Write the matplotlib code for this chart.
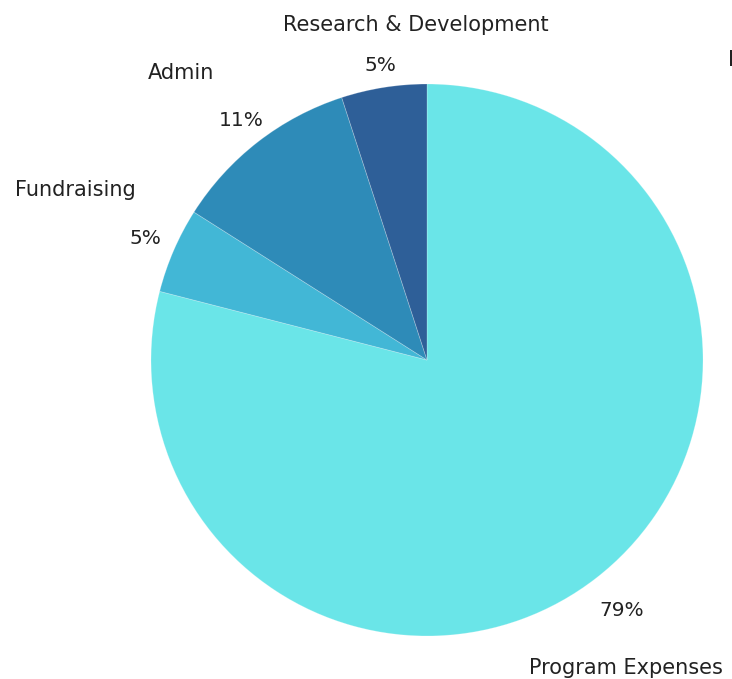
import matplotlib
matplotlib.use("Agg")
import matplotlib.pyplot as plt
import numpy as np

categories = ["Program Expenses", "Fundraising", "Admin", "Research & Development"]
values = [79, 5, 11, 5]
colors = ["#6AE5E8", "#42B7D6", "#2E8BB8", "#2E5F98"]

plt.rcParams['font.family'] = ['DejaVu Sans']

fig = plt.figure(figsize=(7.32, 6.79), dpi=100)
ax = fig.add_axes([151/732, (679-636)/679, 552/732, 552/679])
wedges, _ = ax.pie(values, colors=colors, startangle=90, counterclock=False,
                   radius=1.0, wedgeprops=dict(linewidth=0.6, edgecolor=(1,1,1,0.25)))
ax.set_xlim(-1, 1)
ax.set_ylim(-1, 1)
ax.set_aspect('equal')
ax.axis('off')

# label layout (radius for pct, offset positions for names) in axis units
pct_r = [1.15, 1.11, 1.10, 1.08]
name_pos = [(0.72, -1.115), (-1.275, 0.615), (-0.89, 1.04), (-0.04, 1.215)]

total = sum(values)
for w, v, pr, npos, cat in zip(wedges, values, pct_r, name_pos, categories):
    mid = np.deg2rad((w.theta1 + w.theta2) / 2)
    ax.text(pr*np.cos(mid), pr*np.sin(mid), f"{round(100*v/total)}%", ha="center", va="center",
            fontsize=14.5, color="#222222", clip_on=False)
    ax.text(npos[0], npos[1], cat, ha="center", va="center", fontsize=15, color="#222222",
            clip_on=False)

fig.text(728/732, 1 - 60/679, "I", ha="left", va="center", fontsize=15, color="#222222")

fig.savefig("out.png", dpi=100)
